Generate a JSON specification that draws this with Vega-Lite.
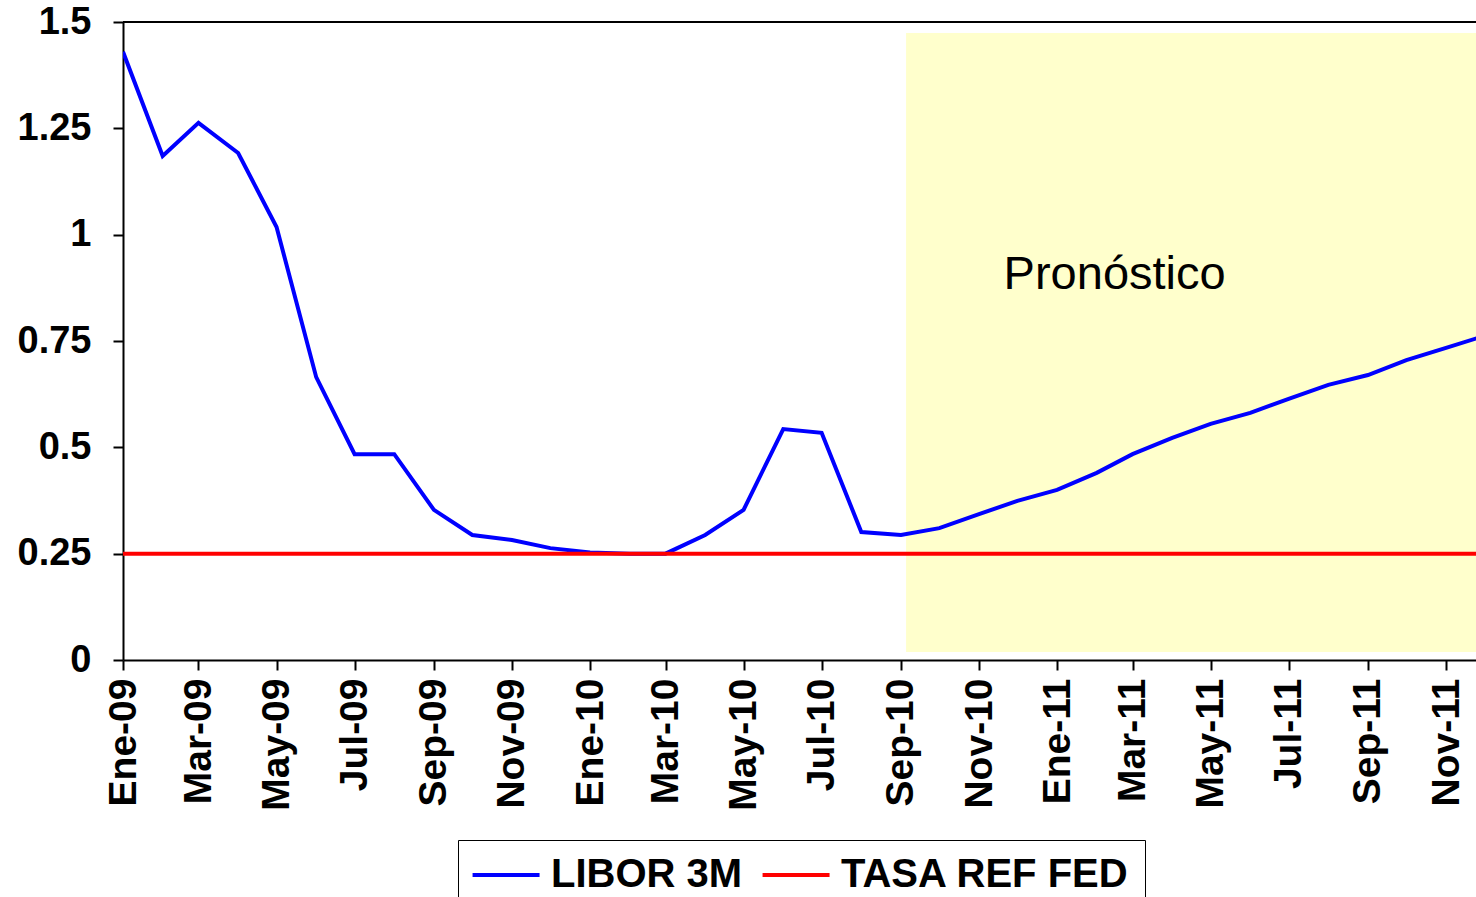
{
  "$schema": "https://vega.github.io/schema/vega-lite/v6.json",
  "autosize": "none",
  "padding": {"left": 123, "top": 22, "right": 0, "bottom": 237},
  "width": 1353,
  "height": 638,
  "background": "white",
  "config": {
    "view": {"stroke": null},
    "font": "Liberation Sans",
    "axis": {
      "labelFont": "Liberation Sans",
      "labelFontWeight": "bold",
      "labelFontSize": 38,
      "labelColor": "black",
      "domainColor": "black",
      "domainWidth": 2,
      "tickColor": "black",
      "tickWidth": 2,
      "tickSize": 10,
      "grid": false,
      "title": null
    }
  },
  "datasets": {
    "serie": [
      {"fecha": "2009-01-01", "LIBOR 3M": 1.43, "TASA REF FED": 0.25},
      {"fecha": "2009-02-01", "LIBOR 3M": 1.185, "TASA REF FED": 0.25},
      {"fecha": "2009-03-01", "LIBOR 3M": 1.263, "TASA REF FED": 0.25},
      {"fecha": "2009-04-01", "LIBOR 3M": 1.192, "TASA REF FED": 0.25},
      {"fecha": "2009-05-01", "LIBOR 3M": 1.018, "TASA REF FED": 0.25},
      {"fecha": "2009-06-01", "LIBOR 3M": 0.665, "TASA REF FED": 0.25},
      {"fecha": "2009-07-01", "LIBOR 3M": 0.484, "TASA REF FED": 0.25},
      {"fecha": "2009-08-01", "LIBOR 3M": 0.484, "TASA REF FED": 0.25},
      {"fecha": "2009-09-01", "LIBOR 3M": 0.353, "TASA REF FED": 0.25},
      {"fecha": "2009-10-01", "LIBOR 3M": 0.294, "TASA REF FED": 0.25},
      {"fecha": "2009-11-01", "LIBOR 3M": 0.282, "TASA REF FED": 0.25},
      {"fecha": "2009-12-01", "LIBOR 3M": 0.263, "TASA REF FED": 0.25},
      {"fecha": "2010-01-01", "LIBOR 3M": 0.253, "TASA REF FED": 0.25},
      {"fecha": "2010-02-01", "LIBOR 3M": 0.25, "TASA REF FED": 0.25},
      {"fecha": "2010-03-01", "LIBOR 3M": 0.25, "TASA REF FED": 0.25},
      {"fecha": "2010-04-01", "LIBOR 3M": 0.294, "TASA REF FED": 0.25},
      {"fecha": "2010-05-01", "LIBOR 3M": 0.353, "TASA REF FED": 0.25},
      {"fecha": "2010-06-01", "LIBOR 3M": 0.543, "TASA REF FED": 0.25},
      {"fecha": "2010-07-01", "LIBOR 3M": 0.534, "TASA REF FED": 0.25},
      {"fecha": "2010-08-01", "LIBOR 3M": 0.301, "TASA REF FED": 0.25},
      {"fecha": "2010-09-01", "LIBOR 3M": 0.294, "TASA REF FED": 0.25},
      {"fecha": "2010-10-01", "LIBOR 3M": 0.31, "TASA REF FED": 0.25},
      {"fecha": "2010-11-01", "LIBOR 3M": 0.343, "TASA REF FED": 0.25},
      {"fecha": "2010-12-01", "LIBOR 3M": 0.374, "TASA REF FED": 0.25},
      {"fecha": "2011-01-01", "LIBOR 3M": 0.4, "TASA REF FED": 0.25},
      {"fecha": "2011-02-01", "LIBOR 3M": 0.44, "TASA REF FED": 0.25},
      {"fecha": "2011-03-01", "LIBOR 3M": 0.484, "TASA REF FED": 0.25},
      {"fecha": "2011-04-01", "LIBOR 3M": 0.522, "TASA REF FED": 0.25},
      {"fecha": "2011-05-01", "LIBOR 3M": 0.555, "TASA REF FED": 0.25},
      {"fecha": "2011-06-01", "LIBOR 3M": 0.581, "TASA REF FED": 0.25},
      {"fecha": "2011-07-01", "LIBOR 3M": 0.614, "TASA REF FED": 0.25},
      {"fecha": "2011-08-01", "LIBOR 3M": 0.647, "TASA REF FED": 0.25},
      {"fecha": "2011-09-01", "LIBOR 3M": 0.67, "TASA REF FED": 0.25},
      {"fecha": "2011-10-01", "LIBOR 3M": 0.705, "TASA REF FED": 0.25},
      {"fecha": "2011-11-01", "LIBOR 3M": 0.734, "TASA REF FED": 0.25},
      {"fecha": "2011-12-01", "LIBOR 3M": 0.762, "TASA REF FED": 0.25}
    ],
    "zona": [
      {"inicio": "2010-09-05", "fin": "2011-12-31", "ymin": 0.019, "ymax": 1.474}
    ],
    "etiqueta": [
      {"fecha": "2011-02-15", "y": 0.905, "texto": "Pronóstico"}
    ]
  },
  "layer": [
    {
      "data": {"name": "zona"},
      "mark": {"type": "rect", "color": "#FFFFCC", "clip": true},
      "encoding": {
        "x": {"field": "inicio", "type": "temporal"},
        "x2": {"field": "fin"},
        "y": {"field": "ymin", "type": "quantitative"},
        "y2": {"field": "ymax"}
      }
    },
    {
      "data": {"name": "etiqueta"},
      "mark": {"type": "text", "font": "Liberation Sans", "fontSize": 47, "color": "black", "align": "center", "baseline": "middle"},
      "encoding": {
        "x": {"field": "fecha", "type": "temporal"},
        "y": {"field": "y", "type": "quantitative"},
        "text": {"field": "texto"}
      }
    },
    {
      "data": {"name": "serie"},
      "mark": {"type": "rule", "color": "black", "strokeWidth": 2},
      "encoding": {"y": {"datum": 1.5}}
    },
    {
      "data": {"name": "serie"},
      "transform": [{"fold": ["LIBOR 3M", "TASA REF FED"], "as": ["serie", "valor"]}],
      "mark": {"type": "line", "strokeWidth": 4, "clip": true},
      "encoding": {
        "x": {
          "field": "fecha",
          "type": "temporal",
          "scale": {"type": "utc", "domain": [{"year": 2009, "month": 1, "date": 1, "utc": true}, {"year": 2011, "month": 11, "date": 24, "hours": 10, "utc": true}]},
          "axis": {
            "tickCount": {"interval": "month", "step": 2},
            "labelAngle": -90,
            "labelAlign": "right",
            "labelBaseline": "middle",
            "labelPadding": 8,
            "labelFontSize": 39,
            "labelOverlap": false,
            "labelFlush": false,
            "labelExpr": "['Ene','Feb','Mar','Abr','May','Jun','Jul','Ago','Sep','Oct','Nov','Dic'][utcmonth(datum.value)] + '-' + utcFormat(datum.value, '%y')"
          }
        },
        "y": {
          "field": "valor",
          "type": "quantitative",
          "scale": {"domain": [0, 1.5], "nice": false},
          "axis": {"values": [0, 0.25, 0.5, 0.75, 1, 1.25, 1.5], "labelExpr": "'' + datum.value", "labelPadding": 22}
        },
        "color": {
          "field": "serie",
          "type": "nominal",
          "scale": {"domain": ["LIBOR 3M", "TASA REF FED"], "range": ["#0000FF", "#FF0000"]},
          "legend": {
            "orient": "none",
            "legendX": 335,
            "legendY": 818,
            "direction": "horizontal",
            "title": null,
            "symbolType": "M-1.22,0L2.78,0",
            "symbolSize": 1122,
            "symbolStrokeWidth": 4,
            "labelFont": "Liberation Sans",
            "labelFontWeight": "bold",
            "labelFontSize": 40,
            "labelColor": "black",
            "labelOffset": 38,
            "columnPadding": 11,
            "padding": 15,
            "strokeColor": "black",
            "labelLimit": 400
          }
        }
      }
    }
  ]
}
